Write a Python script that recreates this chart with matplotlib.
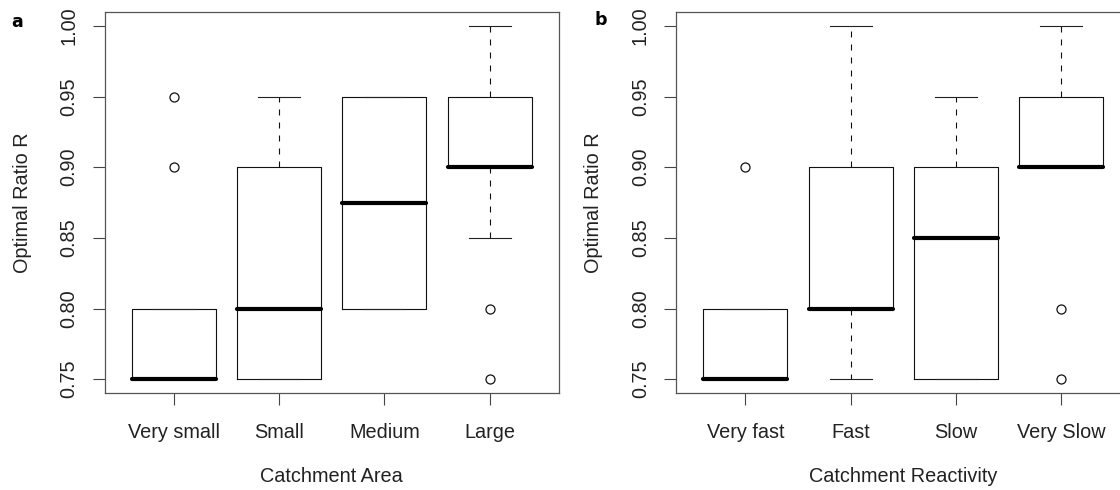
import numpy as np
import matplotlib
matplotlib.use("Agg")
import matplotlib.pyplot as plt

plt.rcParams['font.family'] = ['Liberation Sans', 'DejaVu Sans']

# box summaries per class (q1, median, q3, whiskers, outliers)
area_labels = ['Very small', 'Small', 'Medium', 'Large']
area_q1 = [0.75, 0.75, 0.80, 0.90]
area_med = [0.75, 0.80, 0.875, 0.90]
area_q3 = [0.80, 0.90, 0.95, 0.95]
area_lo = [0.75, 0.75, 0.80, 0.85]
area_hi = [0.80, 0.95, 0.95, 1.00]
area_out = [[0.90, 0.95], [], [], [0.75, 0.80]]

react_labels = ['Very fast', 'Fast', 'Slow', 'Very Slow']
react_q1 = [0.75, 0.80, 0.75, 0.90]
react_med = [0.75, 0.80, 0.85, 0.90]
react_q3 = [0.80, 0.90, 0.90, 0.95]
react_lo = [0.75, 0.75, 0.75, 0.90]
react_hi = [0.80, 1.00, 0.95, 1.00]
react_out = [[0.90], [], [], [0.75, 0.80]]

yticks = [0.75, 0.80, 0.85, 0.90, 0.95, 1.00]


def make_stats(labels, q1, med, q3, lo, hi, out):
    stats = []
    for i in range(len(labels)):
        stats.append({'label': labels[i], 'q1': q1[i], 'med': med[i], 'q3': q3[i],
                      'whislo': lo[i], 'whishi': hi[i], 'fliers': out[i]})
    return stats


def draw_panel(ax, stats, xlabel):
    ax.bxp(stats, positions=[1, 2, 3, 4], widths=0.8, capwidths=0.4,
           showfliers=True, patch_artist=False,
           boxprops=dict(color='#111111', linewidth=0.8),
           medianprops=dict(color='black', linewidth=3.0, solid_capstyle='round'),
           whiskerprops=dict(color='#111111', linewidth=0.8, dashes=(5.4, 6.3)),
           capprops=dict(color='#222222', linewidth=0.8),
           flierprops=dict(marker='o', markersize=6.5, markerfacecolor='none',
                           markeredgecolor='#111111', markeredgewidth=0.9))
    ax.set_xlim(0.34, 4.66)
    ax.set_ylim(0.74, 1.01)
    ax.set_yticks(yticks)
    ax.set_yticklabels(['%.2f' % v for v in yticks], rotation=90, va='center')
    ax.tick_params(axis='both', length=8.8, width=0.8, color='#444444',
                   labelsize=14.3, labelcolor='#222222')
    ax.tick_params(axis='x', pad=12.5)
    ax.tick_params(axis='y', pad=10)
    for s in ax.spines.values():
        s.set_color('#555555')
        s.set_linewidth(0.9)
    ax.set_xlabel(xlabel, fontsize=14.3, color='#222222', va='center')
    ax.xaxis.set_label_coords(0.5, -0.219)
    ax.set_ylabel('Optimal Ratio R', fontsize=14.3, color='#222222', va='center')
    ax.yaxis.set_label_coords(-0.181, 0.5)


fig = plt.figure(figsize=(11.2, 4.9), dpi=100)
ax1 = fig.add_axes([0.0935, 0.1973, 0.4056, 0.7788])
ax2 = fig.add_axes([0.6036, 0.1973, 0.4056, 0.7788])

draw_panel(ax1, make_stats(area_labels, area_q1, area_med, area_q3, area_lo, area_hi, area_out),
           'Catchment Area')
draw_panel(ax2, make_stats(react_labels, react_q1, react_med, react_q3, react_lo, react_hi, react_out),
           'Catchment Reactivity')

# panel letters
fig.text(17 / 1120, 1 - 22 / 490, 'a', fontsize=12.5, fontweight='bold',
         family='DejaVu Sans', ha='center', va='center')
fig.text(601 / 1120, 1 - 20 / 490, 'b', fontsize=12.5, fontweight='bold',
         family='DejaVu Sans', ha='center', va='center')

fig.savefig('out.png', dpi=100)
